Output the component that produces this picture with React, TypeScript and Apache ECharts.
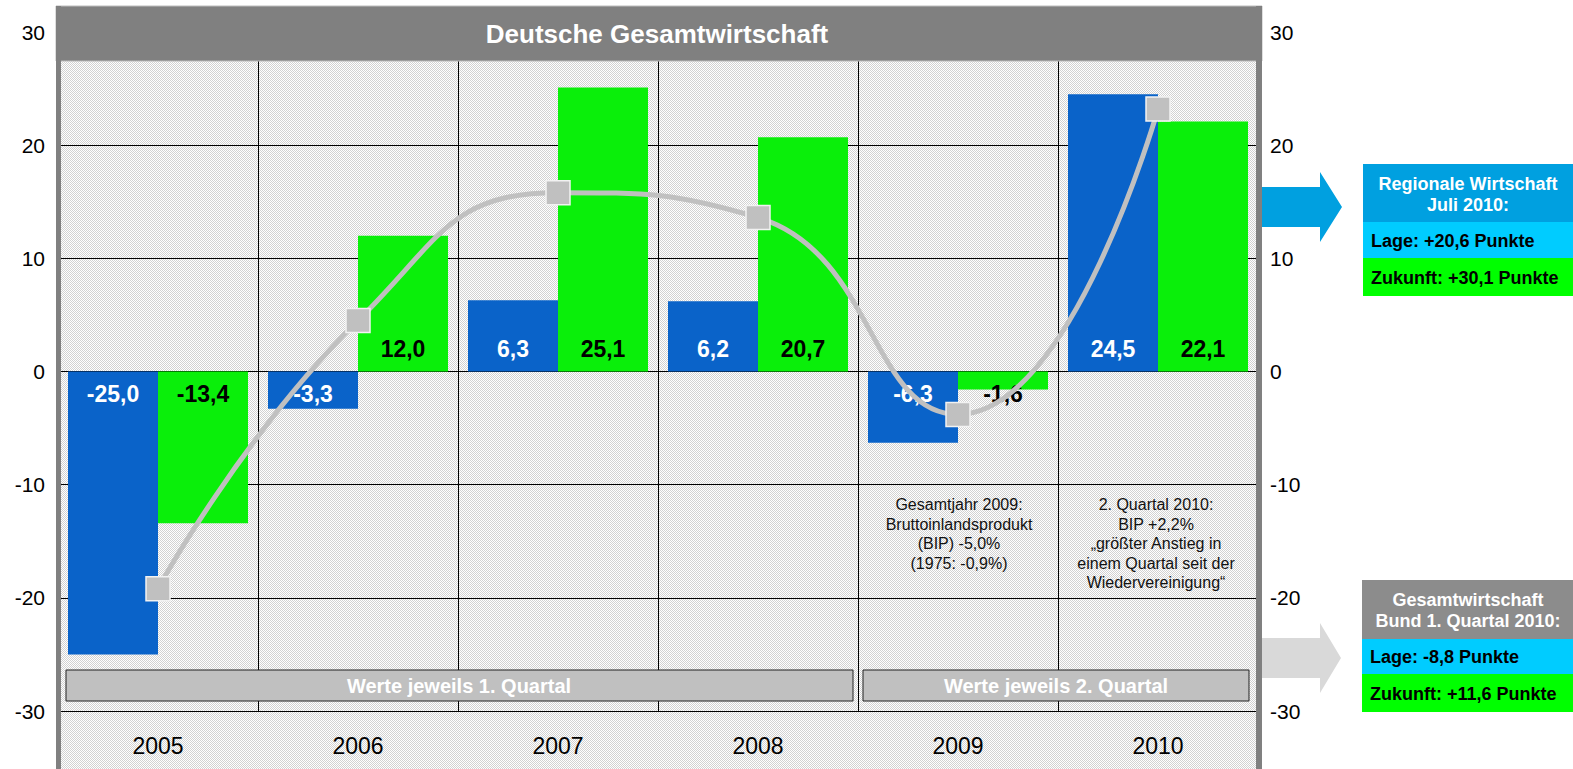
import React, { useEffect, useRef } from 'react';
import * as echarts from 'echarts';

const years = ['2005', '2006', '2007', '2008', '2009', '2010'];
const lage = [-25.0, -3.3, 6.3, 6.2, -6.3, 24.5];
const zukunft = [-13.4, 12.0, 25.1, 20.7, -1.6, 22.1];
const klima = [-19.2, 4.5, 15.8, 13.6, -3.8, 23.2];
const yMin = -30;
const yMax = 30;
const yInterval = 10;

const titleText = 'Deutsche Gesamtwirtschaft';
const quartal1Text = 'Werte jeweils 1. Quartal';
const quartal2Text = 'Werte jeweils 2. Quartal';
const note2009 = 'Gesamtjahr 2009:\nBruttoinlandsprodukt\n(BIP) -5,0%\n(1975: -0,9%)';
const note2010 = '2. Quartal 2010:\nBIP +2,2%\n\u201Egr\u00F6\u00DFter Anstieg in\neinem Quartal seit der\nWiedervereinigung\u201C';
const regionalHeader = 'Regionale Wirtschaft\nJuli 2010:';
const regionalLage = 'Lage: +20,6 Punkte';
const regionalZukunft = 'Zukunft: +30,1 Punkte';
const bundHeader = 'Gesamtwirtschaft\nBund 1. Quartal 2010:';
const bundLage = 'Lage: -8,8 Punkte';
const bundZukunft = 'Zukunft: +11,6 Punkte';

const FONT = '"Liberation Sans", Arial, Helvetica, sans-serif';
const BLUE = '#0a63c9';
const GREEN = '#0aef0a';
const LINE_GRAY = '#c0c0c0';

const fmt = (v: number) => v.toFixed(1).replace('.', ',');

function makePattern(): HTMLCanvasElement {
  const c = document.createElement('canvas');
  c.width = 2;
  c.height = 2;
  const ctx = c.getContext('2d')!;
  ctx.fillStyle = '#ffffff';
  ctx.fillRect(0, 0, 2, 2);
  ctx.fillStyle = '#d2d2d2';
  ctx.fillRect(0, 0, 1, 1);
  ctx.fillRect(1, 1, 1, 1);
  return c;
}

export default function App() {
  const ref = useRef<HTMLDivElement>(null);

  useEffect(() => {
    if (!ref.current) return;
    const chart = echarts.init(ref.current, undefined, { renderer: 'svg' });
    const pattern = makePattern();

    const barLabel = (color: string) => ({
      show: true,
      color,
      fontWeight: 'bold' as const,
      fontSize: 23,
      fontFamily: FONT,
      distance: 11,
      formatter: (p: any) => fmt(p.value),
    });

    const toItems = (arr: number[]) =>
      arr.map((v) => ({
        value: v,
        label: { position: v >= 0 ? 'insideBottom' : 'insideTop' },
      }));

    const option: any = {
      animation: false,
      backgroundColor: '#ffffff',
      grid: { left: 58, right: 315, top: 32, bottom: 58, containLabel: false },
      xAxis: {
        type: 'category',
        data: years,
        boundaryGap: true,
        axisLine: { show: true, onZero: false, lineStyle: { color: '#000', width: 1 } },
        axisTick: { show: false },
        splitLine: { show: true, lineStyle: { color: '#000', width: 1 } },
        axisLabel: { fontSize: 23, color: '#000', margin: 23, fontFamily: FONT },
      },
      yAxis: [
        {
          type: 'value',
          min: yMin,
          max: yMax,
          interval: yInterval,
          axisLine: { show: false },
          axisTick: { show: false },
          splitLine: { show: true, lineStyle: { color: '#000', width: 1 } },
          axisLabel: { fontSize: 21, color: '#000', margin: 13, fontFamily: FONT },
        },
        {
          type: 'value',
          position: 'right',
          min: yMin,
          max: yMax,
          interval: yInterval,
          axisLine: { show: false },
          axisTick: { show: false },
          splitLine: { show: false },
          axisLabel: { fontSize: 21, color: '#000', margin: 12, fontFamily: FONT },
        },
      ],
      series: [
        {
          type: 'bar',
          name: 'Lage',
          data: toItems(lage),
          barGap: '0%',
          barCategoryGap: '10%',
          itemStyle: { color: BLUE },
          label: barLabel('#ffffff'),
          z: 2,
        },
        {
          type: 'bar',
          name: 'Zukunft',
          data: toItems(zukunft),
          barGap: '0%',
          barCategoryGap: '10%',
          itemStyle: { color: GREEN },
          label: barLabel('#000000'),
          z: 2,
        },
        {
          type: 'line',
          name: 'Klima',
          data: klima,
          smooth: 0.5,
          symbol: 'rect',
          symbolSize: 24,
          lineStyle: { color: LINE_GRAY, width: 5 },
          itemStyle: { color: LINE_GRAY, borderColor: '#f2f2f2', borderWidth: 1.5 },
          z: 6,
        },
      ],
      graphic: [
        {
          type: 'rect',
          z: -1,
          shape: { x: 61, y: 61, width: 1195, height: 708 },
          style: { fill: { image: pattern, repeat: 'repeat', imageWidth: 2, imageHeight: 2 } },
          silent: true,
        },
        {
          type: 'rect',
          z: 20,
          shape: { x: 56, y: 6, width: 1206, height: 55 },
          style: { fill: '#808080', stroke: '#bdbdbd', lineWidth: 1 },
        },
        { type: 'rect', z: 20, shape: { x: 56, y: 6, width: 5, height: 763 }, style: { fill: '#808080' } },
        { type: 'rect', z: 20, shape: { x: 1256, y: 6, width: 6, height: 763 }, style: { fill: '#808080' } },
        {
          type: 'text',
          z: 21,
          x: 657,
          y: 34,
          style: {
            text: titleText,
            fill: '#ffffff',
            font: `bold 26px ${FONT}`,
            align: 'center',
            verticalAlign: 'middle',
          },
        },
        {
          type: 'rect',
          z: 10,
          shape: { x: 66, y: 670, width: 787, height: 31 },
          style: { fill: '#c0c0c0', stroke: '#222', lineWidth: 1 },
        },
        {
          type: 'text',
          z: 11,
          x: 459,
          y: 686,
          style: { text: quartal1Text, fill: '#fff', font: `bold 20px ${FONT}`, align: 'center', verticalAlign: 'middle' },
        },
        {
          type: 'rect',
          z: 10,
          shape: { x: 863, y: 670, width: 386, height: 31 },
          style: { fill: '#c0c0c0', stroke: '#222', lineWidth: 1 },
        },
        {
          type: 'text',
          z: 11,
          x: 1056,
          y: 686,
          style: { text: quartal2Text, fill: '#fff', font: `bold 20px ${FONT}`, align: 'center', verticalAlign: 'middle' },
        },
        {
          type: 'text',
          z: 11,
          x: 959,
          y: 495,
          style: { text: note2009, fill: '#111', font: `16px ${FONT}`, align: 'center', verticalAlign: 'top', lineHeight: 19.5 },
        },
        {
          type: 'text',
          z: 11,
          x: 1156,
          y: 495,
          style: { text: note2010, fill: '#111', font: `16px ${FONT}`, align: 'center', verticalAlign: 'top', lineHeight: 19.5 },
        },
        {
          type: 'polygon',
          z: 10,
          shape: {
            points: [
              [1262, 187], [1320, 187], [1320, 172], [1342, 207], [1320, 242], [1320, 227], [1262, 227],
            ],
          },
          style: { fill: '#00a0e0' },
        },
        {
          type: 'polygon',
          z: 10,
          shape: {
            points: [
              [1262, 638], [1320, 638], [1320, 623], [1341, 658], [1320, 693], [1320, 678], [1262, 678],
            ],
          },
          style: { fill: '#d9d9d9' },
        },
        { type: 'rect', z: 10, shape: { x: 1363, y: 164, width: 210, height: 58 }, style: { fill: '#00a0e0' } },
        { type: 'rect', z: 10, shape: { x: 1363, y: 222, width: 210, height: 36 }, style: { fill: '#00ccff' } },
        { type: 'rect', z: 10, shape: { x: 1363, y: 258, width: 210, height: 38 }, style: { fill: '#00ff00' } },
        {
          type: 'text', z: 11, x: 1468, y: 194,
          style: { text: regionalHeader, fill: '#fff', font: `bold 18px ${FONT}`, align: 'center', verticalAlign: 'middle', lineHeight: 21 },
        },
        {
          type: 'text', z: 11, x: 1371, y: 241,
          style: { text: regionalLage, fill: '#000', font: `bold 18px ${FONT}`, align: 'left', verticalAlign: 'middle' },
        },
        {
          type: 'text', z: 11, x: 1371, y: 278,
          style: { text: regionalZukunft, fill: '#000', font: `bold 18px ${FONT}`, align: 'left', verticalAlign: 'middle' },
        },
        { type: 'rect', z: 10, shape: { x: 1362, y: 580, width: 211, height: 59 }, style: { fill: '#8c8c8c' } },
        { type: 'rect', z: 10, shape: { x: 1362, y: 639, width: 211, height: 35 }, style: { fill: '#00ccff' } },
        { type: 'rect', z: 10, shape: { x: 1362, y: 674, width: 211, height: 38 }, style: { fill: '#00ff00' } },
        {
          type: 'text', z: 11, x: 1468, y: 610,
          style: { text: bundHeader, fill: '#fff', font: `bold 18px ${FONT}`, align: 'center', verticalAlign: 'middle', lineHeight: 21 },
        },
        {
          type: 'text', z: 11, x: 1370, y: 657,
          style: { text: bundLage, fill: '#000', font: `bold 18px ${FONT}`, align: 'left', verticalAlign: 'middle' },
        },
        {
          type: 'text', z: 11, x: 1370, y: 694,
          style: { text: bundZukunft, fill: '#000', font: `bold 18px ${FONT}`, align: 'left', verticalAlign: 'middle' },
        },
      ],
    };

    chart.setOption(option);
    return () => chart.dispose();
  }, []);

  return (
    <div
      ref={ref}
      style={{ position: 'fixed', left: 0, top: 0, width: 1573, height: 769 }}
    />
  );
}
